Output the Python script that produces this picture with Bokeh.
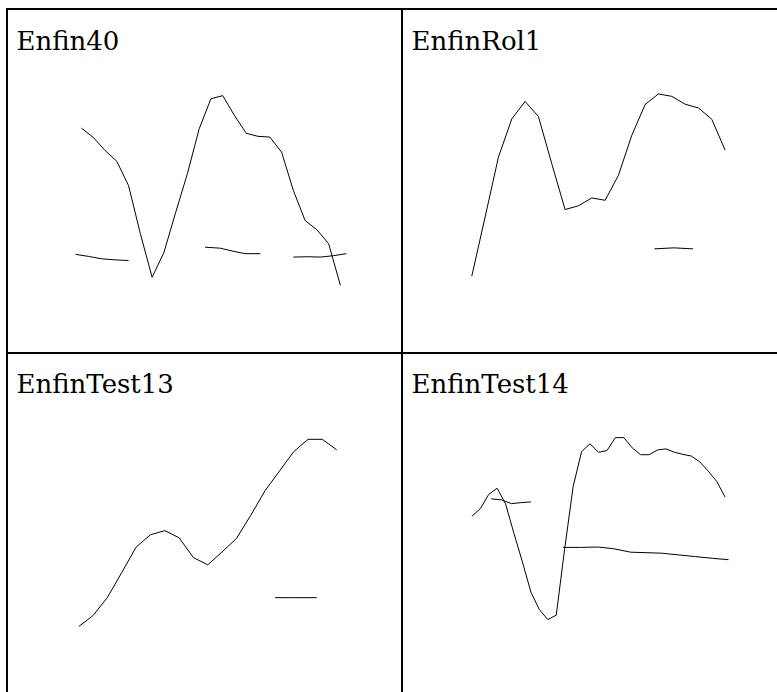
from bokeh.plotting import figure
from bokeh.layouts import column, row
from bokeh.models import Range1d, Label, Spacer
from bokeh.embed import file_html
from bokeh.resources import INLINE

nan = float("nan")

titles = ["Enfin40", "EnfinRol1", "EnfinTest13", "EnfinTest14"]

# ---- Enfin40 ----
enfin40_main = [65.6, 62.9, 59.1, 55.9, 48.8, 34.8, 22.0, 29.2, 40.9, 52.3, 65.4, 74.2,
                75.1, 69.3, 64.1, 63.2, 63.0, 58.6, 47.4, 38.6, 35.9, 31.8, 19.6]
enfin40_sec_t = [-0.5, 0.6, 1.7, 2.8, 4.0, nan, 10.5, 11.8, 12.9, 13.9, 15.2, nan,
                 18.0, 19.2, 20.3, 21.4, 22.5]
enfin40_sec = [28.7, 28.1, 27.4, 27.1, 26.9, nan, 30.8, 30.5, 29.6, 28.9, 28.9, nan,
               27.9, 28.0, 27.9, 28.3, 28.9]

# ---- EnfinRol1 ----
enfinrol1_main = [22.3, 39.6, 57.1, 68.3, 73.4, 69.0, 55.2, 41.8, 42.9, 45.2, 44.5, 51.8,
                  63.5, 72.5, 75.6, 74.9, 72.6, 71.5, 68.2, 59.2]
enfinrol1_sec_t = [13.7, 15.15, 16.6]
enfinrol1_sec = [30.3, 30.6, 30.3]

# ---- EnfinTest13 ----
enfintest13_main = [20.5, 23.7, 29.0, 36.3, 43.7, 47.3, 48.5, 46.4, 40.6, 38.5, 42.3, 46.2,
                    53.0, 60.2, 65.9, 71.6, 75.2, 75.2, 72.1]
enfintest13_sec_t = [13.7, 15.15, 16.6]
enfintest13_sec = [28.9, 28.9, 28.9]

# ---- EnfinTest14 ----
enfintest14_main = [52.7, 54.9, 59.1, 60.9, 56.3, 47.6, 39.3, 30.5, 25.4, 22.5, 23.8, 43.2,
                    61.4, 71.6, 73.9, 71.4, 71.9, 75.7, 75.7, 72.7, 70.7, 70.7, 72.1, 72.4,
                    71.4, 70.8, 70.3, 68.6, 65.9, 62.9, 58.3]
enfintest14_sec_t = [2.3, 3.5, 4.7, 5.9, 7.0, nan, 10.8, 12.9, 15.0, 16.8, 18.8, 22.5,
                     24.5, 26.5, 28.5, 30.4]
enfintest14_sec = [57.8, 57.5, 56.4, 56.7, 56.9, nan, 43.6, 43.6, 43.7, 43.2, 42.2, 41.9,
                   41.4, 40.9, 40.4, 40.0]

panels = [
    (titles[0], enfin40_main, enfin40_sec_t, enfin40_sec),
    (titles[1], enfinrol1_main, enfinrol1_sec_t, enfinrol1_sec),
    (titles[2], enfintest13_main, enfintest13_sec_t, enfintest13_sec),
    (titles[3], enfintest14_main, enfintest14_sec_t, enfintest14_sec),
]

# layout (sizes, ranges, title positions)
sizes = [(393, 342), (374, 342), (393, 338), (374, 338)]
xranges = [(-6.20, 27.19), (-5.12, 22.93), (-4.91, 22.52), (-8.09, 36.20)]
yranges = [(0, 100), (0, 100), (1.17, 100), (1.17, 100)]
title_pos = [(8.0, 30), (8.0, 30), (8.0, 29), (8.0, 29)]

FONT = "DejaVu Serif"

figs = []
for k, (name, main, sec_t, sec) in enumerate(panels):
    w, h = sizes[k]
    p = figure(width=w, height=h, output_backend="svg", toolbar_location=None,
               title=None, x_axis_location=None, y_axis_location=None,
               x_range=Range1d(*xranges[k]), y_range=Range1d(*yranges[k]),
               min_border=0, border_fill_color="white", background_fill_color="white",
               outline_line_color=None)
    p.grid.visible = False
    t = list(range(len(main)))
    p.line(t, main, line_color="black", line_width=1)
    p.line(sec_t, sec, line_color="black", line_width=1)
    tx, ty = title_pos[k]
    p.add_layout(Label(x=tx, y=ty, x_units="canvas", y_units="canvas", text=name,
                       text_font=FONT, text_font_size="26px",
                       text_color="black", text_baseline="alphabetic", text_align="left"))
    figs.append(p)


def rule(w, h):
    return Spacer(width=w, height=h, styles={"background-color": "black"})


page = column(
    Spacer(width=777, height=8),
    row(Spacer(width=6, height=2), rule(771, 2)),
    row(Spacer(width=6, height=342), rule(2, 342), figs[0], rule(2, 342), figs[1]),
    row(Spacer(width=6, height=2), rule(771, 2)),
    row(Spacer(width=6, height=338), rule(2, 338), figs[2], rule(2, 338), figs[3]),
)

open("out.html", "w").write(file_html(page, INLINE))
